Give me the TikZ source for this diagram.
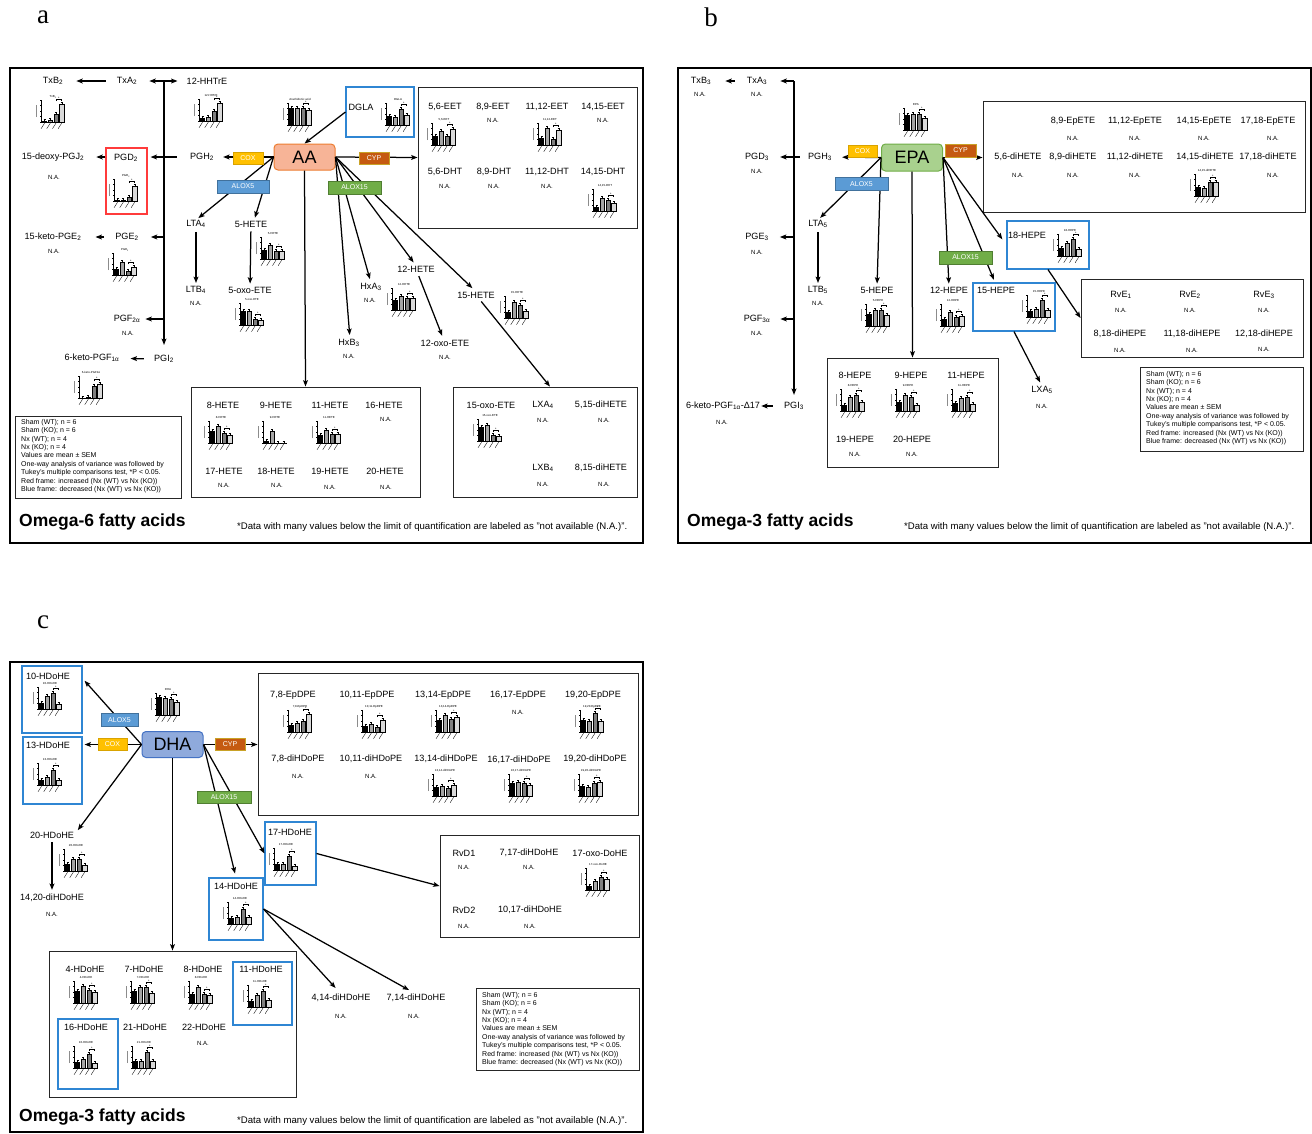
\documentclass[tikz,border=0pt]{standalone}
\usepackage{fontspec}
\setmainfont{Liberation Sans}
\newfontfamily\panelfont{Liberation Serif}
\usetikzlibrary{arrows.meta}
\definecolor{coxc}{HTML}{FFC000}
\definecolor{coxd}{HTML}{D9A300}
\definecolor{cypc}{HTML}{C55A11}
\definecolor{cypd}{HTML}{C9A227}
\definecolor{aloxfc}{HTML}{5B9BD5}
\definecolor{aloxfd}{HTML}{41719C}
\definecolor{aloxgc}{HTML}{70AD47}
\definecolor{aloxgd}{HTML}{507E32}
\definecolor{aafill}{HTML}{F7B497}
\definecolor{aadraw}{HTML}{ED7D31}
\definecolor{epafill}{HTML}{A9D18E}
\definecolor{epadraw}{HTML}{70AD47}
\definecolor{dhafill}{HTML}{8FAADC}
\definecolor{dhadraw}{HTML}{4472C4}
\definecolor{frblue}{HTML}{2F86D3}
\definecolor{frred}{HTML}{FF3B3B}
\definecolor{barb}{HTML}{A6A6A6}
\definecolor{barc}{HTML}{7F7F7F}
\definecolor{bard}{HTML}{D9D9D9}
\newcommand\lsub[1]{\textsubscript{#1}}
% mini bar chart: [bracket flag]{x}{y}{title}{h1}{h2}{h3}{h4}
\newcommand\minichart[8][1]{%
 \begin{scope}[shift={(#2,#3)}]
  \draw[line width=0.45pt] (0,-22) -- (0,0) -- (24,0);
  \foreach \t in {0,5.5,11,16.5,22} \draw[line width=0.3pt] (0,-\t) -- (-1.4,-\t);
  \draw[line width=0.7pt, black!45] (-4.2,-5) -- (-4.2,-17);
  \draw[line width=0.35pt, fill=black] (1.5,0) rectangle (5.6,-#5);
  \draw[line width=0.35pt, fill=barb] (7.2,0) rectangle (11.3,-#6);
  \draw[line width=0.35pt, fill=barc] (12.9,0) rectangle (17,-#7);
  \draw[line width=0.35pt, fill=bard] (18.6,0) rectangle (22.7,-#8);
  \foreach \xx/\hh in {3.55/#5, 9.25/#6, 14.95/#7, 20.65/#8} {\draw[line width=0.3pt] (\xx,-\hh) -- (\xx,-\hh-2) (\xx-1,-\hh-2) -- (\xx+1,-\hh-2);}
  \ifnum#1=1
   \pgfmathsetmacro\mcm{max(#7,#8)+4.5}
   \draw[line width=0.4pt] (14.95,-\mcm+1.5) -- (14.95,-\mcm) -- (20.65,-\mcm) -- (20.65,-\mcm+1.5);
   \node[inner sep=0pt, font=\fontsize{3.5}{3.5}\selectfont] at (17.8,-\mcm-1.2) {*};
  \fi
  \node[inner sep=0pt, font=\fontsize{2.9}{3}\selectfont] at (12,-25.5) {#4};
  \foreach \xx in {3.55,9.25,14.95,20.65} \draw[line width=0.35pt] (\xx,1.2) -- ++(-3.5,5.5);
 \end{scope}}
\begin{document}
\begin{tikzpicture}[x=1pt,y=-1pt,
 lbl/.style={inner sep=0pt, font=\fontsize{9.1}{10}\selectfont},
 na/.style={inner sep=0pt, font=\fontsize{6}{7}\selectfont},
 grp/.style={draw=black!85, line width=0.9pt, inner sep=0pt},
 panel/.style={draw=black, line width=1.3pt},
 bluefr/.style={draw=frblue, line width=1.1pt, inner sep=0pt},
 redfr/.style={draw=frred, line width=1.1pt, inner sep=0pt},
 arr/.style={line width=1.25pt, -{Stealth[length=6.3pt,width=4.8pt,inset=1.2pt]}},
 enz/.style={draw, line width=0.6pt, inner sep=0pt, minimum height=12pt, text=white, font=\fontsize{7}{8}\selectfont},
 cox/.style={enz, fill=coxc, draw=coxd},
 cyp/.style={enz, fill=cypc, draw=cypd},
 aloxf/.style={enz, fill=aloxfc, draw=aloxfd},
 aloxg/.style={enz, fill=aloxgc, draw=aloxgd},
 fa/.style={rounded corners=4pt, line width=1pt, inner sep=0pt, font=\fontsize{18}{20}\selectfont},
 legtxt/.style={anchor=north west, align=left, inner sep=0pt, font=\fontsize{7}{8.4}\selectfont},
 omega/.style={anchor=west, inner sep=0pt, font=\bfseries\fontsize{17.5}{19}\selectfont},
 foot/.style={anchor=west, inner sep=0pt, font=\fontsize{9.6}{10}\selectfont},
 plab/.style={inner sep=0pt, font=\panelfont\fontsize{27}{27}\selectfont},
]
\useasboundingbox (0,0) rectangle (1312,1133);
\fill[white] (0,0) rectangle (1312,1133);

%================ PANEL A ================
\node[plab] (la) at (43,17) {a};
\draw[panel] (10,68) rectangle (643,543);

\node[lbl] (TxB2) at (53,81) {TxB\lsub{2}};
\node[lbl] (TxA2) at (127,81) {TxA\lsub{2}};
\node[lbl] (HHTrE) at (207,81) {12-HHTrE};
\coordinate (va) at (164,81);
\node[lbl] (dPGJ2) at (53,157) {15-deoxy-PGJ\lsub{2}};
\node[na] (na1) at (54,177) {N.A.};
\node[redfr, minimum width=41pt, minimum height=66pt] (PGD2box) at (126.5,181) {};
\node[lbl] (PGD2) at (126,158) {PGD\lsub{2}};
\node[lbl] (PGH2) at (202,157) {PGH\lsub{2}};
\node[fa, draw=aadraw, fill=aafill, minimum width=61pt, minimum height=26pt] (AA) at (304.5,157) {AA};
\node[lbl] (kPGE2) at (53,237) {15-keto-PGE\lsub{2}};
\node[na] (na2) at (54,251) {N.A.};
\node[lbl] (PGE2) at (127,237) {PGE\lsub{2}};
\node[lbl] (PGF2a) at (127,319) {PGF\lsub{2α}};
\node[na] (na3) at (128,333) {N.A.};
\node[lbl] (PGI2) at (164,359) {PGI\lsub{2}};
\node[lbl] (kPGF1a) at (92,358) {6-keto-PGF\lsub{1α}};
\node[lbl] (LTA4) at (196,224) {LTA\lsub{4}};
\node[lbl] (LTB4) at (196,290) {LTB\lsub{4}};
\node[na] (na4) at (196,303) {N.A.};
\node[lbl] (HETE5) at (251,224) {5-HETE};
\node[lbl] (oxo5) at (250,290) {5-oxo-ETE};
\node[bluefr, minimum width=68pt, minimum height=50pt] (DGLAbox) at (380,112) {};
\node[lbl] (DGLA) at (361,107) {DGLA};

\node[grp, minimum width=219pt, minimum height=141pt] (EETbox) at (527.5,157.5) {};
\node[lbl] (EET56) at (445,107) {5,6-EET};
\node[lbl] (EET89) at (493,107) {8,9-EET};
\node[na] (na5) at (493,120) {N.A.};
\node[lbl] (EET1112) at (547,107) {11,12-EET};
\node[lbl] (EET1415) at (603,107) {14,15-EET};
\node[na] (na6) at (603,120) {N.A.};
\node[lbl] (DHT56) at (445,172) {5,6-DHT};
\node[na] (na7) at (445,186) {N.A.};
\node[lbl] (DHT89) at (494,172) {8,9-DHT};
\node[na] (na8) at (494,186) {N.A.};
\node[lbl] (DHT1112) at (547,172) {11,12-DHT};
\node[na] (na9) at (547,186) {N.A.};
\node[lbl] (DHT1415) at (603,172) {14,15-DHT};

\node[lbl] (HxA3) at (371,287) {HxA\lsub{3}};
\node[na] (na10) at (370,300) {N.A.};
\node[lbl] (HETE12) at (416,269) {12-HETE};
\node[lbl] (HETE15) at (476,295) {15-HETE};
\node[lbl] (HxB3) at (349,343) {HxB\lsub{3}};
\node[na] (na11) at (349,356) {N.A.};
\node[lbl] (oxo12) at (445,343) {12-oxo-ETE};
\node[na] (na12) at (445,357) {N.A.};

\node[grp, minimum width=229pt, minimum height=110pt] (HETEbox) at (305.5,442) {};
\node[lbl] (HETE8) at (223,405) {8-HETE};
\node[lbl] (HETE9) at (276,405) {9-HETE};
\node[lbl] (HETE11) at (330,405) {11-HETE};
\node[lbl] (HETE16) at (384,405) {16-HETE};
\node[na] (na13) at (386,419) {N.A.};
\node[lbl] (HETE17) at (224,471) {17-HETE};
\node[na] (na14) at (224,485) {N.A.};
\node[lbl] (HETE18) at (276,471) {18-HETE};
\node[na] (na15) at (277,485) {N.A.};
\node[lbl] (HETE19) at (330,471) {19-HETE};
\node[na] (na16) at (330,487) {N.A.};
\node[lbl] (HETE20) at (385,471) {20-HETE};
\node[na] (na17) at (386,487) {N.A.};

\node[grp, minimum width=184pt, minimum height=110pt] (oxobox) at (545,442) {};
\node[lbl] (oxo15) at (491,405) {15-oxo-ETE};
\node[lbl] (LXA4) at (543,405) {LXA\lsub{4}};
\node[na] (na18) at (543,420) {N.A.};
\node[lbl] (diHETE515) at (601,405) {5,15-diHETE};
\node[na] (na19) at (604,420) {N.A.};
\node[lbl] (LXB4) at (543,468) {LXB\lsub{4}};
\node[na] (na20) at (543,484) {N.A.};
\node[lbl] (diHETE815) at (601,468) {8,15-diHETE};
\node[na] (na21) at (604,484) {N.A.};

\node[grp, minimum width=166pt, minimum height=82pt] (lega) at (98,457) {};
\node[legtxt] (legta) at (21,419) {Sham (WT); n = 6\\Sham (KO); n = 6\\Nx (WT); n = 4\\Nx (KO); n = 4\\Values are mean ± SEM\\One-way analysis of variance was followed by\\Tukey's multiple comparisons test, *P < 0.05.\\Red frame: increased (Nx (WT) vs Nx (KO))\\Blue frame: decreased (Nx (WT) vs Nx (KO))};
\node[omega] (oma) at (19,522) {Omega-6 fatty acids};
\node[foot] (fta) at (237,527) {*Data with many values below the limit of quantification are labeled as "not available (N.A.)".};

% arrows A
\draw[arr, shorten <=11pt, shorten >=13pt] (TxA2) -- (TxB2);
\draw[arr, shorten >=12pt] (va) -- (TxA2);
\draw[arr, shorten >=9pt] (va) -- (HHTrE);
\draw[arr, shorten >=10pt] (va) -- (PGI2);
\draw[arr, shorten <=13pt, shorten >=3pt] (PGH2) -- (PGH2 -| PGD2box.east);
\draw[arr, shorten >=12pt] (PGD2box.west |- dPGJ2) -- (dPGJ2);
\draw[arr, shorten >=12pt] (va |- PGE2) -- (PGE2);
\draw[arr, shorten <=11pt, shorten >=14pt] (PGE2) -- (kPGE2);
\draw[arr, shorten >=5pt] (va |- PGF2a) -- (PGF2a);
\draw[arr, shorten <=10pt, shorten >=11pt] (PGI2) -- (kPGF1a);
\draw[arr, shorten >=9pt] (AA.west) -- (PGH2);
\draw[arr] (AA.east) -- (EETbox.west);
\draw[arr] (DGLAbox.west) -- (AA.north);
\draw[arr, shorten >=3pt] (AA.west) -- (LTA4.north);
\draw[arr, shorten >=3pt] (AA.west) -- ([xshift=3pt]HETE5.north);
\draw[arr, shorten <=4pt, shorten >=3pt] (LTA4) -- (LTB4);
\draw[arr, shorten <=4pt, shorten >=3pt] (HETE5) -- (oxo5);
\draw[arr, shorten >=4pt] (AA.east) -- ([xshift=1pt]HxB3.north);
\draw[arr, shorten >=4pt] (AA.east) -- (HxA3.north);
\draw[arr, shorten >=4pt] (AA.east) -- (HETE12.north);
\draw[arr, shorten >=5pt] (AA.east) -- (HETE15.north);
\draw[arr] (AA.south) -- (HETEbox.north);
\draw[arr, shorten <=4pt, shorten >=4pt] (HETE12) -- (oxo12);
\draw[arr, shorten <=4pt] (HETE15) -- ([xshift=5pt]oxobox.north);

% charts A
\minichart{41}{122}{TxB\lsub{2}}{0.4}{1.5}{8}{18}
\minichart{199}{121}{12-HHTrE}{3}{4}{10}{18}
\minichart{114}{201}{PGD\lsub{2}}{0.4}{0.6}{4}{15}
\minichart{113}{275}{PGE\lsub{2}}{6}{13}{4}{8}
\minichart{261}{259}{5-HETE}{9}{14}{8}{8}
\minichart{240}{325}{5-oxo-ETE}{14}{14}{6}{5}
\minichart{79}{398}{6-keto-PGF1α}{0}{0.5}{12}{14}
\minichart{386}{125}{DGLA}{9}{8}{16}{10}
\minichart{288}{125}{Arachidonic acid}{17}{17}{17}{15}
\minichart{432}{145}{5,6-EET}{9}{14}{9}{16}
\minichart{538}{145}{11,12-EET}{7}{17}{6}{15}
\minichart{593}{211}{14,15-DHT}{4}{13}{11}{8}
\minichart{392}{310}{12-HETE}{10}{14}{12}{12}
\minichart{505}{318}{15-HETE}{6}{16}{13}{7}
\minichart{209}{443}{8-HETE}{12}{17}{10}{8}
\minichart[0]{263}{443}{9-HETE}{2}{12}{0}{0}
\minichart{317}{443}{11-HETE}{8}{13}{9}{9}
\minichart{478}{441}{15-oxo-ETE}{14}{16}{6}{5}

% enzymes A
\node[cox, minimum width=30pt] (coxa) at (248,158) {COX};
\node[cyp, minimum width=30pt] (cypa) at (374,158) {CYP};
\node[aloxf, minimum width=52pt, minimum height=13pt] (alox5a) at (243,186.5) {ALOX5};
\node[aloxg, minimum width=53pt, minimum height=13pt] (alox15a) at (354.5,187.5) {ALOX15};

%================ PANEL B ================
\node[plab] (lb) at (711,17) {b};
\draw[panel] (678,68) rectangle (1311,543);

\node[lbl] (TxB3) at (701,81) {TxB\lsub{3}};
\node[na] (nb1) at (700,94) {N.A.};
\node[lbl] (TxA3) at (757,81) {TxA\lsub{3}};
\node[na] (nb2) at (757,94) {N.A.};
\coordinate (vb) at (794,81);
\node[lbl] (PGD3) at (757,157) {PGD\lsub{3}};
\node[na] (nb3) at (757,171) {N.A.};
\node[lbl] (PGH3) at (820,157) {PGH\lsub{3}};
\node[lbl] (PGE3) at (757,237) {PGE\lsub{3}};
\node[na] (nb4) at (757,252) {N.A.};
\node[lbl] (PGF3a) at (757,319) {PGF\lsub{3α}};
\node[na] (nb5) at (757,333) {N.A.};
\node[lbl] (PGI3) at (794,406) {PGI\lsub{3}};
\node[lbl] (kPGF1aD) at (723,406) {6-keto-PGF\lsub{1α}-Δ17};
\node[na] (nb6) at (722,422) {N.A.};
\node[fa, draw=epadraw, fill=epafill, minimum width=61pt, minimum height=27pt] (EPA) at (912,157.5) {EPA};
\node[lbl] (LTA5) at (818,224) {LTA\lsub{5}};
\node[lbl] (LTB5) at (818,290) {LTB\lsub{5}};
\node[na] (nb7) at (818,303) {N.A.};
\node[lbl] (HEPE5) at (877,290) {5-HEPE};

\node[grp, minimum width=322pt, minimum height=111pt] (EpETEbox) at (1144,156.5) {};
\node[lbl] (EpETE89) at (1073,121) {8,9-EpETE};
\node[na] (nb8) at (1073,138) {N.A.};
\node[lbl] (EpETE1112) at (1135,121) {11,12-EpETE};
\node[na] (nb9) at (1135,138) {N.A.};
\node[lbl] (EpETE1415) at (1204,121) {14,15-EpETE};
\node[na] (nb10) at (1204,138) {N.A.};
\node[lbl] (EpETE1718) at (1268,121) {17,18-EpETE};
\node[na] (nb11) at (1273,138) {N.A.};
\node[lbl] (diHb56) at (1018,157) {5,6-diHETE};
\node[na] (nb12) at (1018,175) {N.A.};
\node[lbl] (diHb89) at (1073,157) {8,9-diHETE};
\node[na] (nb13) at (1073,175) {N.A.};
\node[lbl] (diHb1112) at (1135,157) {11,12-diHETE};
\node[na] (nb14) at (1135,175) {N.A.};
\node[lbl] (diHb1415) at (1205,157) {14,15-diHETE};
\node[lbl] (diHb1718) at (1268,157) {17,18-diHETE};
\node[na] (nb15) at (1273,175) {N.A.};

\node[bluefr, minimum width=82pt, minimum height=48pt] (HEPE18box) at (1048,245) {};
\node[lbl] (HEPE18) at (1027,235) {18-HEPE};
\node[lbl] (HEPE12) at (949,290) {12-HEPE};
\node[bluefr, minimum width=82pt, minimum height=48pt] (HEPE15box) at (1014,307) {};
\node[lbl] (HEPE15) at (996,290) {15-HEPE};

\node[grp, minimum width=222pt, minimum height=78pt] (RvEbox) at (1192,318) {};
\node[lbl] (RvE1) at (1121,295) {RvE\lsub{1}};
\node[na] (nb16) at (1121,310) {N.A.};
\node[lbl] (RvE2) at (1190,295) {RvE\lsub{2}};
\node[na] (nb17) at (1190,310) {N.A.};
\node[lbl] (RvE3) at (1264,295) {RvE\lsub{3}};
\node[na] (nb18) at (1264,310) {N.A.};
\node[lbl] (diHEPE818) at (1120,334) {8,18-diHEPE};
\node[na] (nb19) at (1120,350) {N.A.};
\node[lbl] (diHEPE1118) at (1192,334) {11,18-diHEPE};
\node[na] (nb20) at (1192,350) {N.A.};
\node[lbl] (diHEPE1218) at (1264,334) {12,18-diHEPE};
\node[na] (nb21) at (1264,349) {N.A.};

\node[lbl] (LXA5) at (1042,390) {LXA\lsub{5}};
\node[na] (nb22) at (1042,406) {N.A.};

\node[grp, minimum width=171pt, minimum height=109pt] (HEPEbox) at (912.5,412.5) {};
\node[lbl] (HEPE8) at (855,375) {8-HEPE};
\node[lbl] (HEPE9) at (911,375) {9-HEPE};
\node[lbl] (HEPE11) at (966,375) {11-HEPE};
\node[lbl] (HEPE19) at (855,439) {19-HEPE};
\node[na] (nb23) at (855,454) {N.A.};
\node[lbl] (HEPE20) at (912,439) {20-HEPE};
\node[na] (nb24) at (912,454) {N.A.};

\node[grp, minimum width=163pt, minimum height=84pt] (legb) at (1221.5,409) {};
\node[legtxt] (legtb) at (1146,371) {Sham (WT); n = 6\\Sham (KO); n = 6\\Nx (WT); n = 4\\Nx (KO); n = 4\\Values are mean ± SEM\\One-way analysis of variance was followed by\\Tukey's multiple comparisons test, *P < 0.05.\\Red frame: increased (Nx (WT) vs Nx (KO))\\Blue frame: decreased (Nx (WT) vs Nx (KO))};
\node[omega] (omb) at (687,522) {Omega-3 fatty acids};
\node[foot] (ftb) at (904,527) {*Data with many values below the limit of quantification are labeled as "not available (N.A.)".};

% arrows B
\draw[arr, shorten <=12pt, shorten >=14pt] (TxA3) -- (TxB3);
\draw[arr, shorten >=13pt] (vb) -- (TxA3);
\draw[arr, shorten >=7pt] (vb) -- (PGI3);
\draw[arr, shorten <=8pt, shorten >=11pt] (PGH3) -- (PGD3);
\draw[arr, shorten >=11pt] (vb |- PGE3) -- (PGE3);
\draw[arr, shorten >=10pt] (vb |- PGF3a) -- (PGF3a);
\draw[arr, shorten <=11pt, shorten >=1pt] (PGI3) -- (kPGF1aD);
\draw[arr, shorten >=10pt] (EPA.west) -- (PGH3);
\draw[arr] (EPA.east) -- (EPA.east -| EpETEbox.west);
\draw[arr, shorten >=3pt] (EPA.west) -- (LTA5.north);
\draw[arr, shorten >=3pt] (EPA.west) -- (HEPE5.north);
\draw[arr, shorten <=4pt, shorten >=3pt] (LTA5) -- (LTB5);
\draw[arr, shorten >=3pt] (EPA.east) -- (HEPE12.north);
\draw[arr, shorten >=3pt] (EPA.east) -- ([xshift=-19pt]HEPE15box.north);
\draw[arr, shorten >=7pt] (EPA.east) -- (HEPE18box.west);
\draw[arr] (EPA.south) -- (HEPEbox.north);
\draw[arr] (HEPE18box.south) -- (RvEbox.west);
\draw[arr, shorten >=4pt] (HEPE15box.south) -- (LXA5.north);

% charts B
\minichart{904}{130}{EPA}{15}{16}{16}{12}
\minichart{866}{326}{5-HEPE}{12}{16}{16}{11}
\minichart{941}{326}{12-HEPE}{7}{14}{9}{10}
\minichart{1195}{196}{14,15-diHETE}{9}{8}{14}{14}
\minichart{1058}{256}{18-HEPE}{8}{13}{17}{7}
\minichart{1027}{317}{15-HEPE}{6}{8}{17}{7}
\minichart{841}{411}{8-HEPE}{6}{14}{16}{9}
\minichart{896}{411}{9-HEPE}{9}{16}{14}{6}
\minichart{952}{411}{11-HEPE}{8}{13}{14}{7}

% enzymes B
\node[cox, minimum width=29pt] (coxb) at (862.5,151) {COX};
\node[cyp, minimum width=31pt, minimum height=13pt] (cypb) at (960.5,150.5) {CYP};
\node[aloxf, minimum width=53pt, minimum height=13pt] (alox5b) at (861.5,184) {ALOX5};
\node[aloxg, minimum width=53pt, minimum height=13pt] (alox15b) at (965.5,257.5) {ALOX15};

%================ PANEL C ================
\node[plab] (lc) at (43,622) {c};
\draw[panel] (10,662) rectangle (643,1132);

\node[bluefr, minimum width=60pt, minimum height=67pt] (HD10box) at (52,699.5) {};
\node[lbl] (HD10) at (48,676) {10-HDoHE};
\node[bluefr, minimum width=59pt, minimum height=67pt] (HD13box) at (52.5,770.5) {};
\node[lbl] (HD13) at (48,745) {13-HDoHE};
\node[fa, draw=dhadraw, fill=dhafill, minimum width=61pt, minimum height=26pt] (DHA) at (172.5,744.5) {DHA};
\node[lbl] (HD20) at (52,835) {20-HDoHE};
\node[lbl] (HD1420) at (52,898) {14,20-diHDoHE};
\node[na] (nc1) at (52,914) {N.A.};

\node[grp, minimum width=380pt, minimum height=142pt] (EpDPEbox) at (448,744) {};
\node[lbl] (EpDPE78) at (293,695) {7,8-EpDPE};
\node[lbl] (EpDPE1011) at (367,695) {10,11-EpDPE};
\node[lbl] (EpDPE1314) at (443,695) {13,14-EpDPE};
\node[lbl] (EpDPE1617) at (518,695) {16,17-EpDPE};
\node[na] (nc2) at (518,712) {N.A.};
\node[lbl] (EpDPE1920) at (593,695) {19,20-EpDPE};
\node[lbl] (diHD78) at (298,759) {7,8-diHDoPE};
\node[na] (nc3) at (298,776) {N.A.};
\node[lbl] (diHD1011) at (371,759) {10,11-diHDoPE};
\node[na] (nc4) at (371,776) {N.A.};
\node[lbl] (diHD1314) at (446,759) {13,14-diHDoPE};
\node[lbl] (diHD1617) at (519,760) {16,17-diHDoPE};
\node[lbl] (diHD1920) at (595,759) {19,20-diHDoPE};

\node[bluefr, minimum width=51pt, minimum height=63pt] (HD17box) at (290.5,853.5) {};
\node[lbl] (HD17) at (290,832) {17-HDoHE};
\node[grp, minimum width=199pt, minimum height=102pt] (RvDbox) at (539.5,886) {};
\node[lbl] (RvD1) at (464,853) {RvD1};
\node[na] (nc5) at (464,867) {N.A.};
\node[lbl] (diHD717) at (529,853) {7,17-diHDoHE};
\node[na] (nc6) at (529,867) {N.A.};
\node[lbl] (oxoDoHE) at (600,853) {17-oxo-DoHE};
\node[lbl] (RvD2) at (464,910) {RvD2};
\node[na] (nc7) at (464,926) {N.A.};
\node[lbl] (diHD1017) at (530,910) {10,17-diHDoHE};
\node[na] (nc8) at (530,926) {N.A.};

\node[bluefr, minimum width=54pt, minimum height=62pt] (HD14box) at (236,909) {};
\node[lbl] (HD14) at (236,886) {14-HDoHE};
\node[lbl] (HD414) at (341,998) {4,14-diHDoHE};
\node[na] (nc9) at (341,1016) {N.A.};
\node[lbl] (HD714) at (416,998) {7,14-diHDoHE};
\node[na] (nc10) at (414,1016) {N.A.};

\node[grp, minimum width=247pt, minimum height=146pt] (HDbox) at (172.5,1024) {};
\node[bluefr, minimum width=59pt, minimum height=63pt] (HD11box) at (262.5,993.5) {};
\node[bluefr, minimum width=60pt, minimum height=70pt] (HD16box) at (88,1054) {};
\node[lbl] (HD4) at (85,969) {4-HDoHE};
\node[lbl] (HD7) at (144,969) {7-HDoHE};
\node[lbl] (HD8) at (203,969) {8-HDoHE};
\node[lbl] (HD11) at (261,969) {11-HDoHE};
\node[lbl] (HD16) at (86,1027) {16-HDoHE};
\node[lbl] (HD21) at (145,1027) {21-HDoHE};
\node[lbl] (HD22) at (204,1027) {22-HDoHE};
\node[na] (nc11) at (203,1043) {N.A.};

\node[grp, minimum width=163pt, minimum height=82pt] (legc) at (557.5,1029) {};
\node[legtxt] (legtc) at (482,992) {Sham (WT); n = 6\\Sham (KO); n = 6\\Nx (WT); n = 4\\Nx (KO); n = 4\\Values are mean ± SEM\\One-way analysis of variance was followed by\\Tukey's multiple comparisons test, *P < 0.05.\\Red frame: increased (Nx (WT) vs Nx (KO))\\Blue frame: decreased (Nx (WT) vs Nx (KO))};
\node[omega] (omc) at (19,1117) {Omega-3 fatty acids};
\node[foot] (ftc) at (237,1121) {*Data with many values below the limit of quantification are labeled as "not available (N.A.)".};

% arrows C
\draw[arr, shorten >=3pt] (DHA.west) -- ([yshift=21pt]HD10box.east);
\draw[arr, shorten >=2pt] (DHA.west) -- (DHA.west -| HD13box.east);
\draw[arr, shorten >=6pt] (DHA.west) -- (HD20.east);
\draw[arr, shorten <=4pt, shorten >=4pt] (HD20) -- (HD1420);
\draw[arr] (DHA.east) -- (DHA.east -| EpDPEbox.west);
\draw[arr] (DHA.east) -- (HD17box.west);
\draw[arr, shorten >=4pt] (DHA.east) -- (HD14box.north);
\draw[arr] (DHA.south) -- (HDbox.north);
\draw[arr] (HD17box.east) -- (RvDbox.west);
\draw[arr, shorten >=8pt] (HD14box.east) -- (HD414.north);
\draw[arr, shorten >=8pt] (HD14box.east) -- (HD714.north);

% charts C
\minichart{38}{709}{10-HDoHE}{6}{13}{16}{5}
\minichart{38}{785}{13-HDoHE}{5}{8}{15}{5}
\minichart{156}{715}{DHA}{18}{17}{16}{13}
\minichart{64}{871}{20-HDoHE}{7}{12}{12}{6}
\minichart{288}{732}{7,8-EpDPE}{7}{9}{11}{18}
\minichart{362}{732}{10,11-EpDPE}{6}{8}{5}{12}
\minichart{436}{732}{13,14-EpDPE}{12}{17}{13}{15}
\minichart{580}{732}{19,20-EpDPE}{12}{11}{19}{11}
\minichart{433}{796}{13,14-diHDoPE}{9}{10}{8}{11}
\minichart{509}{796}{16,17-diHDoPE}{13}{14}{13}{11}
\minichart{579}{796}{19,20-diHDoPE}{10}{9}{13}{14}
\minichart{274}{870}{17-HDoHE}{6}{6}{14}{4}
\minichart{586}{890}{17-oxo-DoHE}{4}{9}{13}{11}
\minichart{228}{924}{14-HDoHE}{6}{7}{15}{7}
\minichart{74}{1003}{4-HDoHE}{12}{17}{13}{11}
\minichart{131}{1003}{7-HDoHE}{12}{16}{16}{10}
\minichart{189}{1003}{8-HDoHE}{9}{16}{9}{8}
\minichart{248}{1007}{11-HDoHE}{6}{12}{16}{7}
\minichart{74}{1068}{16-HDoHE}{6}{9}{14}{5}
\minichart{132}{1068}{21-HDoHE}{7}{7}{16}{7}

% enzymes C
\node[aloxf, minimum width=37pt, minimum height=13pt] (alox5c) at (119.5,720) {ALOX5};
\node[cox, minimum width=29pt] (coxc2) at (112.5,744.5) {COX};
\node[cyp, minimum width=30pt] (cypc2) at (230,744.5) {CYP};
\node[aloxg, minimum width=54pt] (alox15c) at (224,797) {ALOX15};
\end{tikzpicture}
\end{document}
